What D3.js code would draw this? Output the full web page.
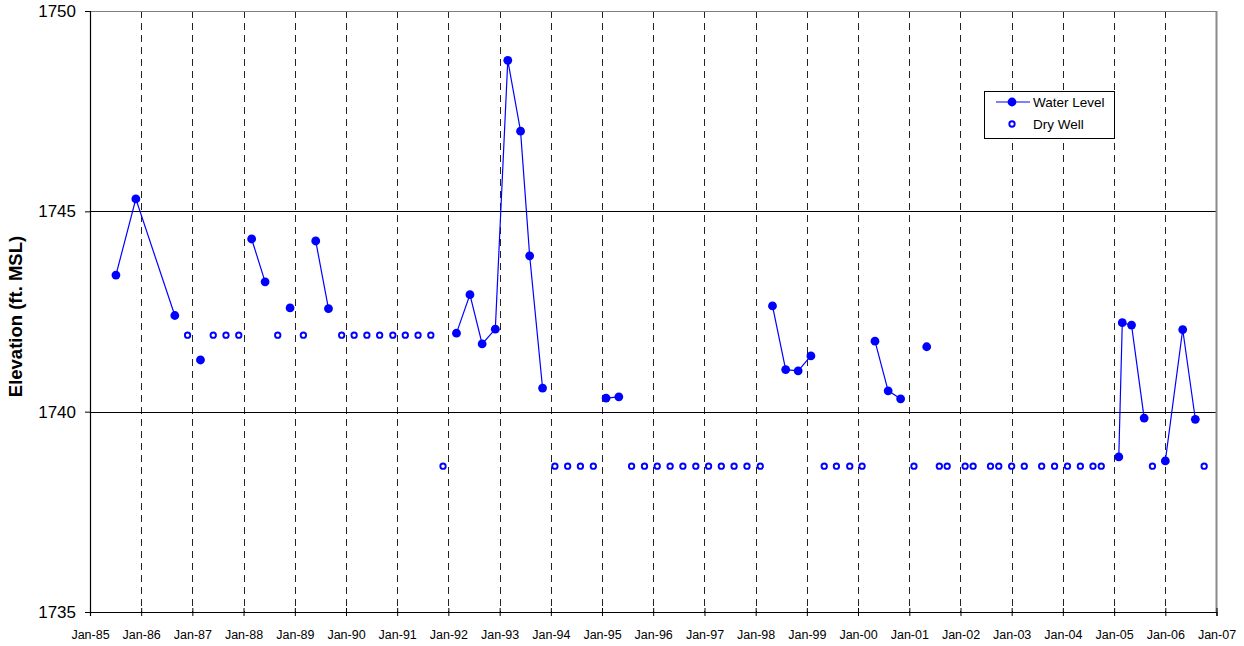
<!DOCTYPE html>
<html>
<head>
<meta charset="utf-8">
<script src="https://cdn.jsdelivr.net/npm/d3@7/dist/d3.min.js"></script>
<style>
  html, body { margin: 0; padding: 0; background: #fff; }
  svg { display: block; font-family: "Liberation Sans", Arial, sans-serif; }
</style>
</head>
<body>
<svg id="chart" width="1244" height="646"></svg>
<script>
// ---------------- DATA ----------------
const yTicks = [1735, 1740, 1745, 1750];
const xTickYears = d3.range(1985, 2008);   // Jan-85 ... Jan-07

// Water level (null entries break the line into segments)
const waterDates = [
  "1985-07-05", "1985-11-24", "1986-08-29", null,
  "1987-02-28", null,
  "1988-02-28", "1988-06-03", null,
  "1988-11-28", null,
  "1989-05-30", "1989-08-29", null,
  "1992-02-28", "1992-06-03", "1992-08-29", "1992-12-01", "1993-02-28", "1993-05-30", "1993-08-03", "1993-11-03", null,
  "1995-01-30", "1995-05-01", null,
  "1998-05-01", "1998-08-03", "1998-10-31", "1999-01-30", null,
  "2000-05-01", "2000-08-03", "2000-10-31", null,
  "2001-05-05", null,
  "2005-02-03", "2005-02-28", "2005-05-05", "2005-08-03", null,
  "2006-01-01", "2006-05-05", "2006-08-03"
];
const waterLevels = [
  1743.41, 1745.31, 1742.40, null,
  1741.29, null,
  1744.31, 1743.24, null,
  1742.59, null,
  1744.26, 1742.57, null,
  1741.96, 1742.92, 1741.69, 1742.06, 1748.77, 1747.00, 1743.89, 1740.59, null,
  1740.34, 1740.37, null,
  1742.64, 1741.05, 1741.02, 1741.39, null,
  1741.76, 1740.52, 1740.32, null,
  1741.62, null,
  1738.87, 1742.22, 1742.16, 1739.84, null,
  1738.77, 1742.05, 1739.81
];

// Dry well observations
const dryDates = [
  "1986-11-28", "1987-05-30", "1987-08-29", "1987-11-28", "1988-09-01", "1989-03-03",
  "1989-12-01", "1990-02-28", "1990-05-30", "1990-08-29", "1990-12-01", "1991-02-28", "1991-05-30", "1991-08-29",
  "1991-11-24", "1994-01-30", "1994-05-01", "1994-07-31", "1994-10-31",
  "1995-07-31", "1995-10-31", "1996-01-30", "1996-05-01", "1996-07-31", "1996-10-31",
  "1997-01-30", "1997-05-01", "1997-07-31", "1997-10-31", "1998-02-03",
  "1999-05-05", "1999-07-31", "1999-11-03", "2000-01-30",
  "2001-02-03", "2001-08-03", "2001-09-28", "2002-02-03", "2002-04-01", "2002-08-03", "2002-10-01",
  "2003-01-01", "2003-04-01", "2003-08-03", "2003-11-03",
  "2004-02-03", "2004-05-05", "2004-08-03", "2004-10-01", "2005-10-01", "2006-10-05"
];
const dryLevels = [
  1741.91, 1741.91, 1741.91, 1741.91, 1741.91, 1741.91,
  1741.91, 1741.91, 1741.91, 1741.91, 1741.91, 1741.91, 1741.91, 1741.91,
  1738.64, 1738.64, 1738.64, 1738.64, 1738.64,
  1738.64, 1738.64, 1738.64, 1738.64, 1738.64, 1738.64,
  1738.64, 1738.64, 1738.64, 1738.64, 1738.64,
  1738.64, 1738.64, 1738.64, 1738.64,
  1738.64, 1738.64, 1738.64, 1738.64, 1738.64, 1738.64, 1738.64,
  1738.64, 1738.64, 1738.64, 1738.64,
  1738.64, 1738.64, 1738.64, 1738.64, 1738.64, 1738.64
];

const seriesNames = ["Water Level", "Dry Well"];
const yTitle = "Elevation (ft. MSL)";

// ---------------- CHART ----------------
(function () {
const parse = d3.timeParse("%Y-%m-%d");
const fmt = d3.timeFormat("%b-%y");
const BLUE = "#0000FF";

const svg = d3.select("#chart");
const pL = 90, pR = 1216.5, pT = 11, pB = 612;

const x = d3.scaleTime()
  .domain([new Date(1985, 0, 1), new Date(2007, 0, 1)])
  .range([pL, pR]);
const y = d3.scaleLinear().domain([1735, 1750]).range([pB, pT]);

const xTickDates = xTickYears.map(yr => new Date(yr, 0, 1));

// vertical dashed gridlines
svg.append("g").selectAll("line")
  .data(xTickDates.slice(1, -1))
  .join("line")
  .attr("x1", d => Math.round(x(d)) + 0.5).attr("x2", d => Math.round(x(d)) + 0.5)
  .attr("y1", pT).attr("y2", pB)
  .attr("stroke", "#222").attr("stroke-width", 1)
  .attr("stroke-dasharray", "7,5");

// horizontal gridlines
svg.append("g").selectAll("line")
  .data(yTicks.filter(v => v > 1735 && v < 1750))
  .join("line")
  .attr("x1", pL).attr("x2", pR)
  .attr("y1", d => Math.round(y(d)) + 0.5).attr("y2", d => Math.round(y(d)) + 0.5)
  .attr("stroke", "#000").attr("stroke-width", 1);

// top and right borders (gray)
svg.append("line").attr("x1", pL).attr("x2", pR)
  .attr("y1", pT + 0.5).attr("y2", pT + 0.5)
  .attr("stroke", "#808080").attr("stroke-width", 1.2);
svg.append("line").attr("x1", pR).attr("x2", pR)
  .attr("y1", pT).attr("y2", pB)
  .attr("stroke", "#8a8a8a").attr("stroke-width", 2);

// axes
const yAxis = d3.axisLeft(y).tickValues(yTicks).tickSize(5).tickPadding(9).tickFormat(d3.format("d"));
const gy = svg.append("g").attr("transform", `translate(${pL},0)`).call(yAxis);
gy.select(".domain").attr("stroke", "#000").attr("stroke-width", 1.2);
gy.selectAll(".tick line").attr("stroke", "#000");
gy.selectAll(".tick text").attr("font-size", 17).attr("fill", "#000")
  .attr("font-family", "'Liberation Sans', Arial, sans-serif");

const xAxis = d3.axisBottom(x).tickValues(xTickDates).tickSize(4).tickPadding(14).tickFormat(fmt);
const gx = svg.append("g").attr("transform", `translate(0,${pB})`).call(xAxis);
gx.select(".domain").attr("stroke", "#000").attr("stroke-width", 1.2);
gx.selectAll(".tick line").attr("stroke", "#000").attr("y1", -4);
gx.selectAll(".tick text").attr("font-size", 12.5).attr("fill", "#000")
  .attr("font-family", "'Liberation Sans', Arial, sans-serif");

// y title
svg.append("text")
  .attr("transform", `translate(22,${(pT + pB) / 2 + 5}) rotate(-90)`)
  .attr("text-anchor", "middle")
  .attr("font-size", 18.5).attr("font-weight", "bold")
  .text(yTitle);

// water level line
const water = waterDates.map((d, i) => ({ date: d ? parse(d) : null, v: waterLevels[i] }));
const line = d3.line().defined(d => d.date && d.v != null)
  .x(d => x(d.date)).y(d => y(d.v));
svg.append("path").datum(water)
  .attr("d", line).attr("fill", "none")
  .attr("stroke", BLUE).attr("stroke-width", 1.2);

svg.append("g").selectAll("circle")
  .data(water.filter(d => d.date && d.v != null))
  .join("circle")
  .attr("cx", d => x(d.date)).attr("cy", d => y(d.v))
  .attr("r", 4.4).attr("fill", BLUE);

// dry well markers
const dry = dryDates.map((d, i) => ({ date: parse(d), v: dryLevels[i] }));
svg.append("g").selectAll("circle")
  .data(dry)
  .join("circle")
  .attr("cx", d => x(d.date)).attr("cy", d => y(d.v))
  .attr("r", 2.7).attr("fill", "#fff")
  .attr("stroke", BLUE).attr("stroke-width", 1.9);

// legend
const lg = svg.append("g");
lg.append("rect").attr("x", 984.5).attr("y", 91.5).attr("width", 130).attr("height", 47)
  .attr("fill", "#fff").attr("stroke", "#000").attr("stroke-width", 1);
lg.append("line").attr("x1", 996).attr("x2", 1030).attr("y1", 102).attr("y2", 102)
  .attr("stroke", BLUE).attr("stroke-width", 1.2);
lg.append("circle").attr("cx", 1012).attr("cy", 102).attr("r", 4.4).attr("fill", BLUE);
lg.append("circle").attr("cx", 1012).attr("cy", 124).attr("r", 2.7).attr("fill", "#fff")
  .attr("stroke", BLUE).attr("stroke-width", 1.9);
lg.selectAll("text.lab").data(seriesNames).join("text")
  .attr("class", "lab")
  .attr("x", 1033).attr("y", (d, i) => 102 + i * 22)
  .attr("dy", "0.35em")
  .attr("font-size", 13.5).attr("fill", "#000")
  .text(d => d);
})();
</script>
</body>
</html>
